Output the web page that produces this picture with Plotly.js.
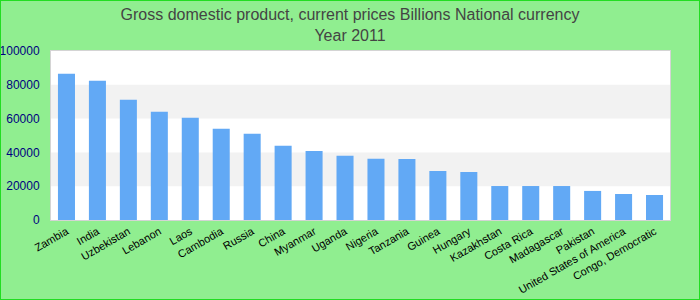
<!DOCTYPE html>
<html>
<head>
<meta charset="utf-8">
<script src="https://cdn.plot.ly/plotly-3.0.1.min.js"></script>
<style>
html,body{margin:0;padding:0;}
#chart{width:700px;height:300px;box-sizing:border-box;border:1px solid #22dd22;}
</style>
</head>
<body>
<div id="chart"></div>
<script>
const countries = ["Zambia","India","Uzbekistan","Lebanon","Laos","Cambodia","Russia","China","Myanmar","Uganda","Nigeria","Tanzania","Guinea","Hungary","Kazakhstan","Costa Rica","Madagascar","Pakistan","United States of America","Congo, Democratic"];
const gdpValues = [86500,82400,71100,64000,60500,54000,51000,43900,40900,38000,36200,36100,29000,28400,20100,20100,20100,17200,15400,14800];
const yTickValues = [0,20000,40000,60000,80000,100000];
const titleText = "Gross domestic product, current prices Billions National currency<br>Year 2011";

const data = [{
  type: "bar",
  x: countries,
  y: gdpValues,
  marker: {color: "#62a9f5"},
  hoverinfo: "x+y"
}];

const bands = [
  {y0: 20000, y1: 40000},
  {y0: 60000, y1: 80000}
].map(b => ({
  type: "rect", xref: "paper", yref: "y", x0: 0, x1: 1, y0: b.y0, y1: b.y1,
  fillcolor: "#f2f2f2", line: {width: 0}, layer: "below"
}));

const layout = {
  width: 698, height: 298,
  paper_bgcolor: "#90ee90",
  plot_bgcolor: "#ffffff",
  margin: {l: 50, r: 29, t: 50, b: 79, pad: 0},
  font: {family: "Liberation Sans, Arial, sans-serif"},
  title: {
    text: titleText,
    font: {size: 16, color: "#444444", lineposition: "none"},
    x: 0.5, xanchor: "center", xref: "container",
    y: 0.935, yanchor: "middle", yref: "container"
  },
  bargap: 0.45,
  showlegend: false,
  shapes: bands,
  xaxis: {
    type: "category",
    tickangle: -30,
    tickfont: {size: 11, color: "#000000"},
    showgrid: false,
    showline: true, linecolor: "#d4d4d4", linewidth: 1, mirror: true,
    ticks: "", zeroline: false
  },
  yaxis: {
    range: [0, 100000],
    tickvals: yTickValues,
    ticktext: yTickValues.map(String),
    tickfont: {size: 12, color: "#000080"},
    ticklabelstandoff: 8,
    showgrid: false,
    showline: true, linecolor: "#d4d4d4", linewidth: 1, mirror: true,
    ticks: "", ticklen: 0, zeroline: false
  }
};

Plotly.newPlot("chart", data, layout, {displayModeBar: false, staticPlot: true});
</script>
</body>
</html>
